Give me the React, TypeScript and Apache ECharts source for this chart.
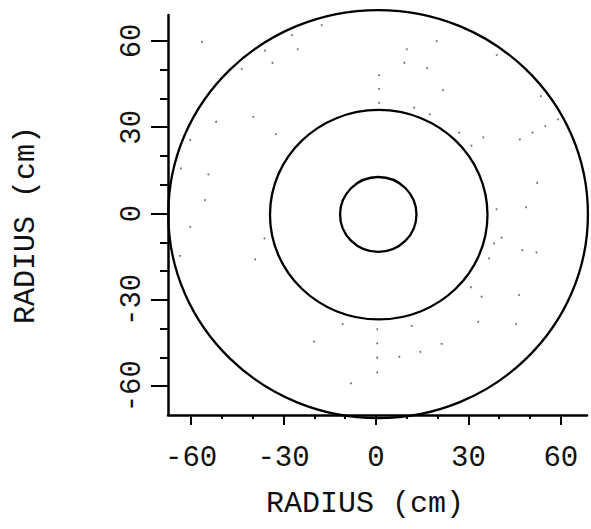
import React, { useEffect, useRef } from "react";
import * as echarts from "echarts";

// Axis ranges and tick values (cm)
const xRange = [-67.5, 68.5];
const yRange = [-70, 69];
const majorTicks = [-60, -30, 0, 30, 60];
const minorTicks = [-60, -50, -40, -30, -20, -10, 0, 10, 20, 30, 40, 50, 60];

// Concentric contours: centre x, centre y, half-width, half-height (cm)
const circleCx = [0.75, 0.9, 0.7];
const circleCy = [-0.3, -0.4, -0.2];
const circleRx = [12.4, 35.3, 68.1];
const circleRy = [13.0, 36.4, 70.9];

// Faint sample points (cm)
const dotX = [
  -56.5, -27.3, -17.6, -36.0, -25.4, -33.6, -43.6, 1.0, 1.0, 1.0, -51.9, -39.8, -32.5, -60.3, -63.3,
  -54.4, -55.5, 19.7, 10.0, 9.2, 16.6, 21.8, 39.2, 53.5, 12.4, 17.5, 59.1, 55.0, 50.8, 46.7, 27.0,
  34.8, 31.0, 52.3, 48.7, 39.1, -60.3, -63.6, -36.2, -39.2, -10.8, 0.4, 0.4, 0.4, 0.4, -20.1, -8.1,
  40.8, 38.3, 47.5, 52.1, 36.7, 30.8, 34.3, 46.4, 33.2, 45.5, 11.6, 21.3, 14.4, 7.6,
];
const dotY = [
  59.7, 62.0, 65.5, 56.6, 57.1, 52.4, 50.2, 48.1, 43.3, 38.5, 31.9, 33.6, 27.6, 25.5, 15.7,
  13.6, 4.7, 59.9, 57.1, 52.4, 50.5, 42.9, 55.1, 40.8, 36.8, 34.5, 32.7, 30.4, 28.1, 25.8, 28.1,
  26.5, 23.6, 10.7, 2.2, 1.5, -4.6, -14.7, -8.6, -15.9, -38.4, -40.2, -45.1, -50.1, -55.2, -44.5, -59.0,
  -8.4, -10.4, -12.7, -13.5, -15.6, -25.6, -28.9, -28.3, -37.6, -38.4, -39.0, -45.3, -48.1, -49.8,
];

const axisName = "RADIUS (cm)";
const FONT = "Liberation Mono";

export default function App() {
  const ref = useRef<HTMLDivElement>(null);

  useEffect(() => {
    if (!ref.current) return;
    const chart = echarts.init(ref.current, undefined, { renderer: "svg" });

    const circleData = circleCx.map((cx, i) => [cx, circleCy[i], circleRx[i], circleRy[i]]);
    const dotData = dotX.map((x, i) => [x, dotY[i]]);

    const labelStyle = {
      fontFamily: FONT,
      fontSize: 29,
      color: "#111",
    };
    const nameStyle = {
      fontFamily: FONT,
      fontSize: 30,
      color: "#111",
    };

    chart.setOption({
      animation: false,
      backgroundColor: "#fff",
      grid: { left: 168, right: 4, top: 15, bottom: 114 },
      xAxis: [
        {
          type: "value",
          min: xRange[0],
          max: xRange[1],
          position: "bottom",
          splitLine: { show: false },
          axisLine: { show: true, onZero: false, lineStyle: { color: "#000", width: 2.5 } },
          axisTick: {
            show: true,
            customValues: majorTicks,
            length: 10,
            lineStyle: { color: "#000", width: 2 },
          },
          axisLabel: {
            customValues: majorTicks,
            margin: 29,
            ...labelStyle,
          },
          name: axisName,
          nameLocation: "middle",
          nameGap: 74,
          nameTextStyle: { ...nameStyle, padding: [0, 25, 0, 0] },
        },
        {
          type: "value",
          min: xRange[0],
          max: xRange[1],
          position: "bottom",
          splitLine: { show: false },
          axisLine: { show: false, onZero: false },
          axisTick: {
            show: true,
            customValues: minorTicks,
            length: 4,
            lineStyle: { color: "#000", width: 2 },
          },
          axisLabel: { show: false },
        },
      ],
      yAxis: [
        {
          type: "value",
          min: yRange[0],
          max: yRange[1],
          position: "left",
          splitLine: { show: false },
          axisLine: { show: true, onZero: false, lineStyle: { color: "#000", width: 2.5 } },
          axisTick: {
            show: true,
            customValues: majorTicks,
            length: 17,
            lineStyle: { color: "#000", width: 2 },
          },
          axisLabel: {
            customValues: majorTicks,
            rotate: 90,
            margin: 21,
            ...labelStyle,
          },
          name: axisName,
          nameLocation: "middle",
          nameGap: 127,
          nameTextStyle: { ...nameStyle, padding: [0, 20, 0, 0] },
        },
        {
          type: "value",
          min: yRange[0],
          max: yRange[1],
          position: "left",
          splitLine: { show: false },
          axisLine: { show: false, onZero: false },
          axisTick: {
            show: true,
            customValues: minorTicks,
            length: 8,
            lineStyle: { color: "#000", width: 2 },
          },
          axisLabel: { show: false },
        },
      ],
      series: [
        {
          type: "scatter",
          xAxisIndex: 0,
          yAxisIndex: 0,
          data: dotData,
          symbol: "circle",
          symbolSize: 2,
          itemStyle: { color: "#555", opacity: 0.8 },
          silent: true,
        },
        {
          type: "custom",
          xAxisIndex: 0,
          yAxisIndex: 0,
          data: circleData,
          encode: { x: 0, y: 1 },
          clip: false,
          silent: true,
          renderItem: (params: any, api: any) => {
            const c = api.coord([api.value(0), api.value(1)]);
            const s = api.size([api.value(2), api.value(3)]);
            return {
              type: "ellipse",
              shape: { cx: c[0], cy: c[1], rx: s[0], ry: s[1] },
              style: { fill: "none", stroke: "#000", lineWidth: 2.3 },
            };
          },
        },
      ],
    });

    return () => chart.dispose();
  }, []);

  return (
    <div
      ref={ref}
      style={{ position: "fixed", left: 0, top: 0, width: 591, height: 529, background: "#fff" }}
    />
  );
}
